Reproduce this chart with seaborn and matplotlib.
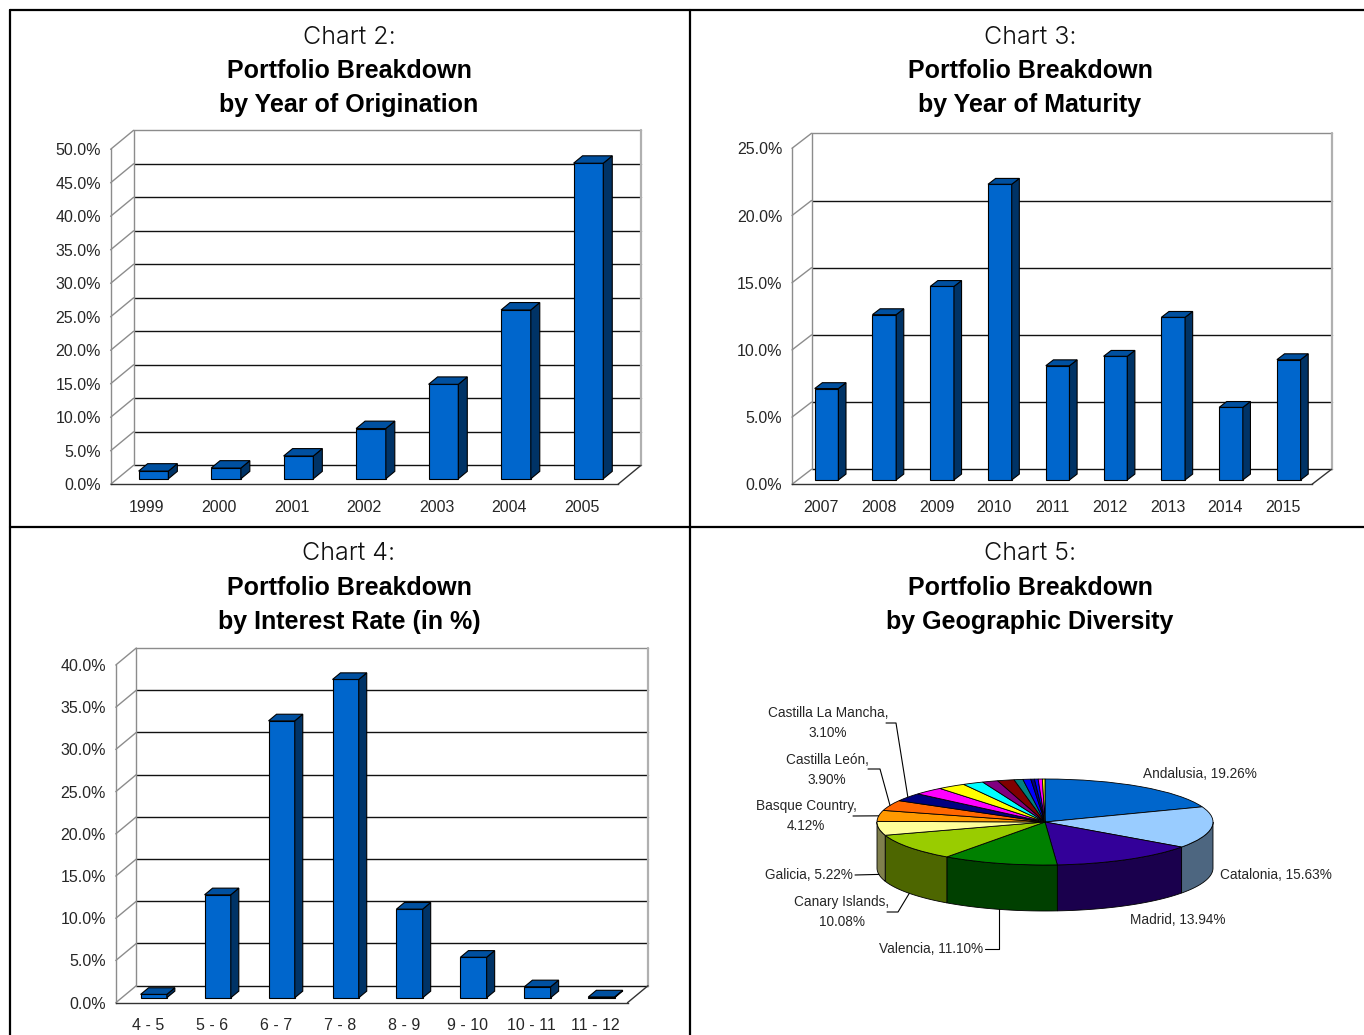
import numpy as np
import pandas as pd
import matplotlib
matplotlib.use("Agg")
import matplotlib.pyplot as plt
import matplotlib.colors as mcolors
from matplotlib import font_manager as fm
from matplotlib.patches import Polygon
from matplotlib.lines import Line2D
from matplotlib.transforms import ScaledTranslation
import seaborn as sns

# ---------------------------------------------------------------- data
orig_years = ["1999", "2000", "2001", "2002", "2003", "2004", "2005"]
orig_share = [1.15, 1.6, 3.4, 7.5, 14.1, 25.2, 47.1]

mat_years = ["2007", "2008", "2009", "2010", "2011", "2012", "2013", "2014", "2015"]
mat_share = [6.8, 12.3, 14.4, 22.0, 8.5, 9.2, 12.1, 5.4, 8.95]

rate_bands = ["4 - 5", "5 - 6", "6 - 7", "7 - 8", "8 - 9", "9 - 10", "10 - 11", "11 - 12"]
rate_share = [0.4, 12.2, 32.8, 37.7, 10.5, 4.8, 1.3, 0.1]

regions = ["Andalusia", "Catalonia", "Madrid", "Valencia", "Canary Islands",
           "Galicia", "Basque Country", "Castilla León", "Castilla La Mancha",
           "", "", "", "", "", "", "", "", "", "", ""]
region_share = [19.26, 15.63, 13.94, 11.10, 10.08, 5.22, 4.12, 3.90, 3.10,
                2.9, 2.7, 2.0, 1.5, 1.6, 0.85, 0.75, 0.35, 0.35, 0.4, 0.25]
region_colors = ["#0066CC", "#99CCFF", "#330099", "#008000", "#99CC00",
                 "#FFFF99", "#FF9900", "#FF6600", "#000080", "#FF00FF",
                 "#FFFF00", "#00FFFF", "#800080", "#800000", "#008080",
                 "#0000FF", "#000080", "#0000FF", "#FF00FF", "#FFFF00"]

# ---------------------------------------------------------------- style
sns.set_style("white")
names = {f.name for f in fm.fontManager.ttflist}
BASE = "Liberation Sans Narrow" if "Liberation Sans Narrow" in names else "Liberation Sans"
LIGHT = "Inter" if "Inter" in names else "DejaVu Sans"
plt.rcParams["font.family"] = [BASE, "DejaVu Sans"]

W, H, DPI = 1364, 1035, 100
fig = plt.figure(figsize=(W / DPI, H / DPI), dpi=DPI)
fig.patch.set_facecolor("white")

FRONT, TOP, SIDE = "#0066CC", "#0050A0", "#003366"
WALL, GRID = "#8c8c8c", "#111111"


def fx(px):
    return px / W


def fy(py):
    return 1 - py / H


# panel frame
for (xa, ya, xb, yb) in [(10, 10, 1364, 10), (10, 10, 10, 1035),
                         (690, 10, 690, 1035), (10, 527, 1364, 527)]:
    fig.add_artist(Line2D([fx(xa), fx(xb)], [fy(ya), fy(yb)],
                          transform=fig.transFigure, color="black", lw=1.6))


def titles(cx, y0, number, line1, line2):
    fig.text(fx(cx), fy(y0), f"Chart {number}:", ha="center", va="center",
             fontsize=18, family=[LIGHT, "DejaVu Sans"], fontweight=300,
             color="#111111")
    fig.text(fx(cx), fy(y0 + 34), line1, ha="center", va="center",
             fontsize=18, fontweight="bold", color="black")
    fig.text(fx(cx), fy(y0 + 68), line2, ha="center", va="center",
             fontsize=18, fontweight="bold", color="black")


titles(349, 37, 2, "Portfolio Breakdown", "by Year of Origination")
titles(1030, 37, 3, "Portfolio Breakdown", "by Year of Maturity")
titles(349, 554, 4, "Portfolio Breakdown", "by Interest Rate (in %)")
titles(1030, 554, 5, "Portfolio Breakdown", "by Geographic Diversity")


def bar_panel(cats, vals, box, ymax, step, wall):
    x0, x1, ytop, ybot = box
    ax = fig.add_axes([fx(x0), fy(ybot), (x1 - x0) / W, (ybot - ytop) / H])
    n = len(cats)
    df = pd.DataFrame({"cat": cats, "val": vals})
    sns.barplot(data=df, x="cat", y="val", ax=ax, width=0.41, color=FRONT,
                saturation=1, edgecolor="black", linewidth=0.8, zorder=3)
    ax.set_xlim(-0.5, n - 0.5)
    ax.set_ylim(0, ymax)
    ax.set_xlabel("")
    ax.set_ylabel("")

    ppx = (x1 - x0) / n
    ppy = (ybot - ytop) / ymax
    wxd, wyd = wall[0] / ppx, wall[1] / ppy
    dxd, dyd = 0.39 * wxd, 0.39 * wyd

    # bars sit a little behind the front plane
    off = ScaledTranslation(0.29 * wall[0] / DPI, 0.29 * wall[1] / DPI,
                            fig.dpi_scale_trans)
    tr = ax.transData + off
    for p in list(ax.patches):
        p.set_transform(tr)
        x, w, h = p.get_x(), p.get_width(), p.get_height()
        top = Polygon([(x, h), (x + w, h), (x + w + dxd, h + dyd), (x + dxd, h + dyd)],
                      closed=True, facecolor=TOP, edgecolor="black", lw=0.8,
                      transform=tr, zorder=3, clip_on=False)
        side = Polygon([(x + w, 0), (x + w, h), (x + w + dxd, h + dyd), (x + w + dxd, dyd)],
                       closed=True, facecolor=SIDE, edgecolor="black", lw=0.8,
                       transform=tr, zorder=3, clip_on=False)
        ax.add_patch(side)
        ax.add_patch(top)

    # back wall, floor and side-wall connectors
    levels = np.arange(0, ymax + step / 2, step)
    xl, xr = -0.5, n - 0.5
    for v in levels:
        col = WALL if np.isclose(v, ymax) else GRID
        ax.add_line(Line2D([xl + wxd, xr + wxd], [v + wyd, v + wyd], color=col,
                           lw=1.0, zorder=1, clip_on=False))
        ax.add_line(Line2D([xl, xl + wxd], [v, v + wyd], color=WALL,
                           lw=1.0, zorder=1, clip_on=False))
    ax.add_line(Line2D([xl + wxd, xl + wxd], [wyd, ymax + wyd], color=WALL,
                       lw=1.0, zorder=1, clip_on=False))
    ax.add_line(Line2D([xr + wxd, xr + wxd], [wyd, ymax + wyd], color="#b0b0b0",
                       lw=1.6, zorder=1, clip_on=False))
    ax.add_line(Line2D([xr, xr + wxd], [0, wyd], color="#333333",
                       lw=1.0, zorder=1, clip_on=False))

    # axes
    for s in ("top", "right"):
        ax.spines[s].set_visible(False)
    ax.spines["left"].set_color(WALL)
    ax.spines["left"].set_linewidth(1.0)
    ax.spines["bottom"].set_color("#333333")
    ax.spines["bottom"].set_linewidth(1.0)
    ax.set_yticks(levels)
    ax.set_yticklabels([f"{v:.1f}%" for v in levels])
    ax.tick_params(axis="y", length=5, width=1, color=WALL, pad=2, labelsize=11.5)
    ax.set_xticks(range(n))
    ax.set_xticklabels(cats)
    ax.set_xticks(np.arange(-0.5, n), minor=True)
    ax.tick_params(axis="x", which="major", length=0, pad=11, labelsize=11.5)
    ax.tick_params(axis="x", which="minor", length=5, width=1, color="#333333")
    ax.set_facecolor("none")
    return ax


bar_panel(orig_years, orig_share, (110.6, 618, 149.3, 484.3), 50, 5, (23, 19))
bar_panel(mat_years, mat_share, (792, 1312, 148.3, 484.3), 25, 5, (19.5, 15))
bar_panel(rate_bands, rate_share, (115.8, 627.5, 665, 1002.7), 40, 5, (20.5, 17))

# ---------------------------------------------------------------- 3-D pie
CX, CY, RX, RY, DEPTH = 1045, 822, 168, 43, 46
PX0, PX1, PY0, PY1 = 740, 1350, 690, 970
pax = fig.add_axes([fx(PX0), fy(PY1), (PX1 - PX0) / W, (PY1 - PY0) / H])
wedges, _ = pax.pie(region_share, colors=region_colors, startangle=90,
                    counterclock=False,
                    wedgeprops=dict(edgecolor="black", linewidth=0.6, zorder=2))
pax.set_aspect("auto")
pax.set_xlim((PX0 - CX) / RX, (PX1 - CX) / RX)
pax.set_ylim((CY - PY1) / RY, (CY - PY0) / RY)
pax.axis("off")
depth = DEPTH / RY

for wdg, col in zip(wedges, region_colors):
    t1, t2 = wdg.theta1, wdg.theta2
    dark = np.array(mcolors.to_rgb(col)) * 0.5
    for k in (-720, -360, 0, 360):
        lo, hi = max(t1, 180 + k), min(t2, 360 + k)
        if hi > lo:
            ts = np.radians(np.linspace(lo, hi, 60))
            upper = np.column_stack([np.cos(ts), np.sin(ts)])
            lower = np.column_stack([np.cos(ts), np.sin(ts) - depth])[::-1]
            pax.add_patch(Polygon(np.vstack([upper, lower]), closed=True,
                                  facecolor=dark, edgecolor="black", lw=0.6,
                                  zorder=1))


def pdat(px, py):
    return ((px - CX) / RX, (CY - py) / RY)


# label layout: (text x, text y, ha, line break, leader path in px)
label_layout = {
    "Andalusia": (1143, 774, "left", False, None),
    "Catalonia": (1220, 875, "left", False, None),
    "Madrid": (1130, 920, "left", False, None),
    "Valencia": (983, 949, "right", False, [(985, 949), ("attach_x", 949)]),
    "Canary Islands": (842, 912, "center", True, [(887, 912), (898, 912)]),
    "Galicia": (853, 875, "right", False, [(855, 875)]),
    "Basque Country": (806, 816, "center", True, [(853, 816)]),
    "Castilla León": (827, 770, "center", True, [(868, 769), (880, 769)]),
    "Castilla La Mancha": (828, 723, "center", True, [(886, 723), (896, 723)]),
}

for wdg, name, val in zip(wedges, regions, region_share):
    if name not in label_layout:
        continue
    tx, ty, ha, brk, path = label_layout[name]
    sep = ",\n" if brk else ", "
    pax.text(*pdat(tx, ty), f"{name}{sep}{val:.2f}%", ha=ha, va="center",
             fontsize=9.8, multialignment="center", linespacing=1.6,
             clip_on=False)
    if path is None:
        continue
    mid = np.radians((wdg.theta1 + wdg.theta2) / 2)
    ax_, ay_ = np.cos(mid), np.sin(mid)
    if ay_ < 0:
        ay_ -= depth
    pts = []
    for (px, py) in path:
        if px == "attach_x":
            pts.append((ax_, pdat(0, py)[1]))
        else:
            pts.append(pdat(px, py))
    pts.append((ax_, ay_))
    xs, ys = zip(*pts)
    pax.add_line(Line2D(xs, ys, color="black", lw=0.8, zorder=3, clip_on=False))

fig.savefig("out.png", dpi=DPI, facecolor="white")
